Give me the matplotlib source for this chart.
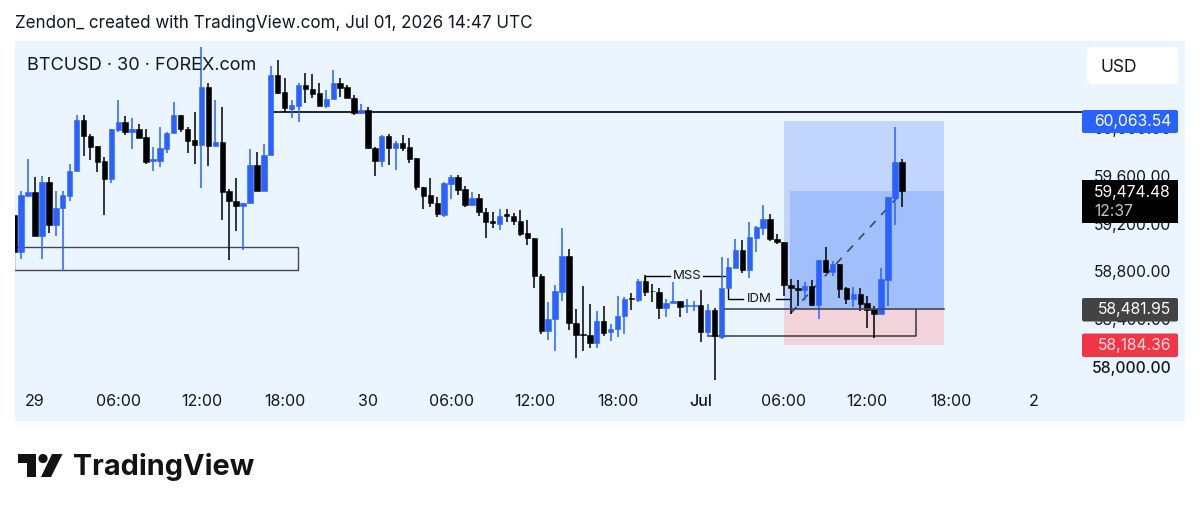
import matplotlib
matplotlib.use('Agg')
import matplotlib.pyplot as plt
from matplotlib.patches import Rectangle, FancyBboxPatch, Circle, Polygon
import numpy as np

plt.rcParams['font.family'] = ['Inter', 'DejaVu Sans']

first_bar = -3
opens = [
    59274, 58965, 59436, 59464, 59098, 59550, 59191, 59330, 59436, 59643, 60069, 59935, 59849, 59726, 59578,
    59988, 60050, 59972, 59991, 59924, 59729, 59726, 59829, 59961, 60111, 59997, 59902, 59857, 60346, 59852,
    59882, 59472, 59394, 59350, 59375, 59693, 59478, 59774, 60443, 60301,
    60164, 60189, 60362, 60328, 60292, 60189, 60242, 60381, 60342, 60256, 60125, 60152, 59837, 59726, 59938,
    59834, 59873, 59843, 59751, 59511, 59438, 59377, 59276, 59536, 59589, 59488, 59360, 59419, 59302, 59221,
    59198, 59279, 59265, 59226, 59120, 59084, 58760, 58300, 58400, 58629, 58933, 58372, 58277, 58266, 58199,
    58386, 58289, 58319, 58425, 58579, 58559, 58721, 58640, 58626, 58495, 58537, 58551, 58512, 58515, 58520,
    58294, 58481, 58255, 58660, 58833, 58980, 58810, 59084, 59167, 59240, 59073, 59050, 58687, 58665, 58643,
    58679, 58523, 58896, 58796, 58863, 58659, 58570, 58615, 58534, 58486, 58445, 58729, 59415, 59714,
]
highs = [
    59358, 59478, 59746, 59595, 59601, 59592, 59470, 59478, 59701, 60114, 60108, 59952, 59849, 59757, 59994,
    60237, 60103, 60089, 60036, 59991, 59841, 60008, 59972, 60220, 60111, 60008, 60139, 60678, 60376, 60234,
    60175, 59492, 59584, 59375, 59827, 59802, 59869, 60524, 60572, 60418,
    60236, 60381, 60459, 60451, 60376, 60320, 60487, 60418, 60359, 60281, 60203, 60180, 59846, 59943, 59949,
    59893, 59940, 59918, 59751, 59511, 59583, 59427, 59550, 59608, 59608, 59519, 59466, 59449, 59329, 59302,
    59321, 59321, 59293, 59315, 59232, 59084, 58783, 58548, 58685, 59162, 58986, 58487, 58679, 58529, 58467,
    58512, 58361, 58595, 58584, 58621, 58735, 58771, 58696, 58662, 58568, 58715, 58551, 58568, 58556, 58646,
    58529, 58492, 58919, 58914, 59070, 59064, 59212, 59181, 59357, 59279, 59112, 59050, 58735, 58726, 58715,
    58729, 58896, 59003, 58891, 58863, 58673, 58673, 58659, 58595, 58511, 58827, 59421, 60012, 59745,
]
lows = [
    58953, 58906, 59428, 59093, 58906, 59124, 59098, 58806, 59391, 59643, 59765, 59735, 59634, 59277, 59539,
    59972, 59944, 59827, 59922, 59701, 59640, 59679, 59790, 59961, 59972, 59790, 59701, 59503, 59684, 59852,
    59230, 58892, 59135, 58976, 59375, 59470, 59478, 59774, 60287, 60136,
    60083, 60052, 60214, 60250, 60186, 60169, 60242, 60264, 60253, 60111, 60119, 59829, 59597, 59678, 59695,
    59653, 59812, 59712, 59483, 59324, 59341, 59254, 59254, 59408, 59441, 59341, 59360, 59268, 59078, 59165,
    59148, 59215, 59190, 59098, 59023, 58663, 58275, 58224, 58130, 58556, 58314, 58077, 58138, 58157, 58157,
    58261, 58219, 58252, 58280, 58478, 58548, 58595, 58548, 58406, 58422, 58537, 58417, 58456, 58473, 58213,
    58261, 57892, 58238, 58660, 58833, 58785, 58749, 58961, 59106, 59059, 59028, 58595, 58445, 58511, 58562,
    58511, 58405, 58785, 58765, 58578, 58528, 58506, 58467, 58327, 58246, 58445, 58514, 59189, 59340,
]
closes = [
    58967, 59439, 59464, 59098, 59553, 59191, 59333, 59439, 59645, 60069, 59935, 59846, 59721, 59578, 59994,
    60050, 59969, 59994, 59922, 59721, 59740, 59832, 59961, 60114, 59991, 59896, 59857, 60346, 59852, 59882,
    59467, 59391, 59350, 59375, 59693, 59478, 59776, 60443, 60298, 60167,
    60194, 60365, 60325, 60289, 60189, 60242, 60381, 60339, 60253, 60130, 60152, 59832, 59726, 59938, 59834,
    59873, 59837, 59745, 59511, 59435, 59371, 59279, 59539, 59589, 59486, 59360, 59419, 59299, 59212, 59209,
    59268, 59268, 59223, 59115, 59081, 58758, 58303, 58403, 58635, 58933, 58369, 58272, 58272, 58199, 58386,
    58286, 58322, 58428, 58573, 58570, 58721, 58629, 58635, 58492, 58540, 58551, 58506, 58520, 58523, 58294,
    58478, 58261, 58662, 58835, 58980, 58813, 59089, 59173, 59240, 59070, 59047, 58688, 58659, 58645, 58679,
    58520, 58896, 58796, 58863, 58657, 58567, 58615, 58531, 58478, 58445, 58735, 59421, 59714, 59474.48,
]

time_ticks = [0, 12, 24, 36, 48, 60, 72, 84, 96, 108, 120, 132, 144]
time_labels = ['29', '06:00', '12:00', '18:00', '30', '06:00', '12:00', '18:00', 'Jul', '06:00', '12:00', '18:00', '2']
price_ticks = [58000, 58400, 58800, 59200, 59600, 60000]

resistance = 60136
tp_price = 60063.54
entry_price = 58481.95
stop_price = 58184.36
last_price = 59474.48
zone_low, zone_high = 58812, 59005
idm_low = 58260
mss_price = 58766
idm_price = 58570

BLUE = '#2962ff'
BLACK = '#000000'
DARK = '#434651'
TEXT = '#131722'
PANE = '#ebf5ff'

# px layout of the pane in the 1200x511 picture
fig = plt.figure(figsize=(12, 5.11), dpi=100, facecolor='white')
ax = fig.add_axes([15 / 1200, 1 - 421 / 511, 1170 / 1200, 380 / 511], facecolor=PANE)
bar_px = 6.935
price_px = 0.1194
ax.set_xlim((15 - 35) / bar_px, (1185 - 35) / bar_px)
ax.set_ylim(58000 - 54 / price_px, 58000 + 326 / price_px)
for s in ax.spines.values():
    s.set_visible(False)

# long position box
ax.add_patch(Rectangle((108, entry_price), 23.1, tp_price - entry_price, fc='#c2d6fd', ec='none', zorder=1))
ax.add_patch(Rectangle((108, stop_price), 23.1, entry_price - stop_price, fc='#f2d3da', ec='none', zorder=1))
ax.add_patch(Rectangle((108.9, entry_price), 22.2, last_price - entry_price, fc='#a1bffb', ec='none', zorder=1.1))

# drawings
ax.add_patch(Rectangle((-3, zone_low), 40.9, zone_high - zone_low, fc='none', ec=DARK, lw=1, zorder=2))
ax.plot([34.5, 151], [resistance, resistance], color=BLACK, lw=1.2, zorder=2)
ax.plot([99.5, 131.1], [entry_price, entry_price], color=DARK, lw=1.2, zorder=4)
ax.plot([97, 127, 127], [idm_low, idm_low, entry_price], color=DARK, lw=1.2, zorder=2)
ax.plot([109, 124.4], [58452, 59424], color=DARK, lw=1.2, dashes=(5, 5), zorder=2)

ax.plot([88, 88, 91.6], [58703, mss_price, mss_price], color=BLACK, lw=1, zorder=2)
ax.plot([96.3, 99.5], [mss_price, mss_price], color=BLACK, lw=1, zorder=2)
ax.text(94, mss_price, 'MSS', ha='center', va='center', fontsize=9.5, color=TEXT, zorder=4)
ax.plot([100, 100, 102.1], [58660, idm_price, idm_price], color=BLACK, lw=1, zorder=2)
ax.plot([106.8, 108.9], [idm_price, idm_price], color=BLACK, lw=1, zorder=2)
ax.text(104.4, idm_price, 'IDM', ha='center', va='center', fontsize=9.5, color=TEXT, zorder=4)

# candles
idx = np.arange(first_bar, first_bar + len(opens))
o = np.array(opens)
h = np.array(highs)
l = np.array(lows)
c = np.array(closes)
colors = [BLUE if b >= a else BLACK for a, b in zip(o, c)]
ax.vlines(idx, l, h, colors=colors, lw=1.1, zorder=3)
ax.bar(idx, np.abs(c - o), bottom=np.minimum(o, c), width=0.78, color=colors, edgecolor=colors, lw=0.4, zorder=3)

# axes
ax.set_xticks(time_ticks)
ax.set_xticklabels(time_labels)
ax.set_yticks(price_ticks)
ax.set_yticklabels(['{:,.2f}'.format(p) for p in price_ticks])
ax.yaxis.tick_right()
ax.tick_params(axis='x', length=0, pad=-19.5, labelsize=11.5, labelcolor=TEXT)
ax.tick_params(axis='y', length=0, pad=-10, labelsize=11.3, labelcolor=TEXT)
for t in ax.yaxis.get_major_ticks():
    t.label2.set_ha('right')
ax.yaxis.get_major_ticks()[0].label2.set_fontweight('medium')
ax.xaxis.get_major_ticks()[8].label1.set_fontweight('medium')

fig.text(27 / 1200, 1 - 65 / 511, 'BTCUSD · 30 · FOREX.com', fontsize=13, color=TEXT, va='center', ha='left', zorder=5)
fig.text(15 / 1200, 1 - 24 / 511, 'Zendon_ created with TradingView.com, Jul 01, 2026 14:47 UTC',
         fontsize=12.25, color=TEXT, va='center', ha='left')

# overlay in px for labels and logo
px = fig.add_axes([0, 0, 1, 1], facecolor='none')
px.set_xlim(0, 1200)
px.set_ylim(511, 0)
px.axis('off')


def badge(top, bottom, label, color, txt='white'):
    px.add_patch(FancyBboxPatch((1082, top), 96, bottom - top, boxstyle='round,pad=0,rounding_size=2', fc=color, ec='none'))
    px.text(1171, (top + bottom) / 2, label, ha='right', va='center', fontsize=11.3, color=txt)


px.add_patch(FancyBboxPatch((1087, 47), 91, 37, boxstyle='round,pad=0,rounding_size=5', fc='white', ec='none'))
px.text(1100, 67, 'USD', ha='left', va='center', fontsize=12.5, color=TEXT)

badge(110, 133, '{:,.2f}'.format(tp_price), BLUE)
badge(298, 321.5, '{:,.2f}'.format(entry_price), '#434343')
badge(333.5, 357, '{:,.2f}'.format(stop_price), '#f23645', '#ffe0e3')
px.add_patch(Rectangle((1082, 180), 96, 43, fc=BLACK, ec='none'))
px.text(1171, 192, '{:,.2f}'.format(last_price), ha='right', va='center', fontsize=11.3, color='white')
px.text(1094, 211, '12:37', ha='left', va='center', fontsize=11.3, color='#c8c8c8')

# TradingView logo
LOGO = '#131313'
px.add_patch(Polygon([(18, 454), (36, 454), (36, 477), (27, 477), (27, 463), (18, 463)], fc=LOGO, ec='none'))
px.add_patch(Circle((43, 458.5), 4.6, fc=LOGO, ec='none'))
px.add_patch(Polygon([(52, 454), (62.5, 454), (51, 477), (41, 477)], fc=LOGO, ec='none'))
px.text(73, 467, 'TradingView', ha='left', va='center', fontsize=20.8, fontweight='bold', color=LOGO)

fig.savefig('out.png', dpi=100)
